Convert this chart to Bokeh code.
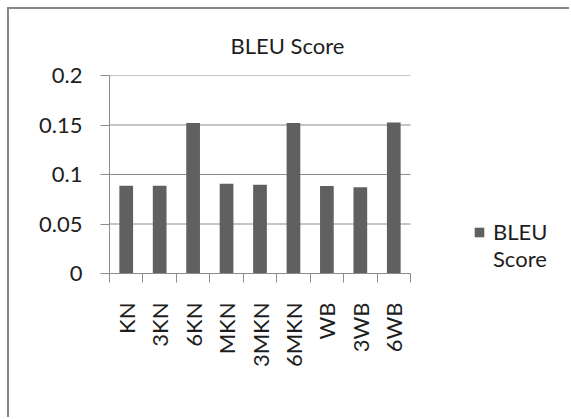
import math
from bokeh.plotting import figure
from bokeh.models import Range1d, FixedTicker, Legend, LegendItem
from bokeh.embed import file_html
from bokeh.resources import INLINE

# BLEU scores per language-model smoothing setup
categories = ["KN", "3KN", "6KN", "MKN", "3MKN", "6MKN", "WB", "3WB", "6WB"]
bleu_scores = [0.0886, 0.0886, 0.152, 0.0906, 0.0896, 0.152, 0.0884, 0.0872, 0.1525]
y_ticks = [0, 0.05, 0.1, 0.15, 0.2]
y_tick_labels = ["0", "0.05", "0.1", "0.15", "0.2"]

FONT = "Lato"
TEXT = "#1e1e1e"
LINE = "#8c8c8c"
BAR = "#606060"

n = len(categories)
centers = [i + 0.5 for i in range(n)]
bounds = list(range(n + 1))

# the plotting frame runs to the right edge so the legend can sit inside it;
# the category axis itself only covers the first 301 px of the 462 px frame
FRAME_W, AXIS_W = 462, 301
x_end = n * FRAME_W / AXIS_W

p = figure(width=562, height=410, output_backend="svg", toolbar_location=None,
           x_range=Range1d(0, x_end), y_range=Range1d(0, 0.2),
           min_border_left=100, min_border_right=0,
           min_border_top=66, min_border_bottom=146)
p.margin = (9, 0, 0, 9)
p.styles = {"border-left": "2px solid #878787", "border-top": "2px solid #878787",
            "position": "absolute", "left": "-2px", "top": "-2px"}
p.outline_line_color = None
p.background_fill_color = "white"
p.border_fill_color = "white"

p.title.text = "BLEU Score"
p.title.align = "left"
p.title.offset = 121
p.title.standoff = 34
p.title.text_font = FONT
p.title.text_font_size = "22px"
p.title.text_font_style = "normal"
p.title.text_color = TEXT

# horizontal gridlines limited to the category span
p.segment(x0=[0] * len(y_ticks), x1=[n] * len(y_ticks), y0=y_ticks, y1=y_ticks,
          line_color=LINE, line_width=1)

r = p.vbar(x=centers, top=bleu_scores, width=0.41, fill_color=BAR, line_color=None)
# transparent stand-in so the legend entry wraps onto a second line
wrap = p.vbar(x=[], top=[], width=0.41, fill_alpha=0, line_alpha=0)

xa = p.xaxis[0]
xa.bounds = (0, n)
xa.ticker = FixedTicker(ticks=centers, minor_ticks=bounds)
xa.major_label_overrides = {c: name for c, name in zip(centers, categories)}
xa.major_tick_line_color = None
xa.major_tick_out = 9
xa.major_tick_in = 0
xa.minor_tick_line_color = LINE
xa.minor_tick_out = 9
xa.minor_tick_in = 0
xa.axis_line_color = LINE
xa.major_label_orientation = math.pi / 2
xa.major_label_standoff = 20
xa.major_label_text_font = FONT
xa.major_label_text_font_size = "22px"
xa.major_label_text_color = TEXT

ya = p.yaxis[0]
ya.ticker = FixedTicker(ticks=y_ticks)
ya.major_label_overrides = {t: s for t, s in zip(y_ticks, y_tick_labels)}
ya.major_tick_line_color = LINE
ya.major_tick_out = 9
ya.major_tick_in = 0
ya.minor_tick_line_color = None
ya.axis_line_color = LINE
ya.major_label_standoff = 18
ya.major_label_text_font = FONT
ya.major_label_text_font_size = "22px"
ya.major_label_text_color = TEXT

p.xgrid.grid_line_color = None
p.ygrid.grid_line_color = None

legend = Legend(items=[LegendItem(label="BLEU", renderers=[r]),
                       LegendItem(label="Score", renderers=[wrap])],
                location=(364, 1), margin=0, padding=0, spacing=0,
                glyph_width=12, glyph_height=12, label_height=26,
                label_standoff=8,
                label_text_font=FONT, label_text_font_size="22px",
                label_text_color=TEXT, border_line_color=None,
                background_fill_alpha=0)
p.add_layout(legend)

open("out.html", "w").write(file_html(p, INLINE))
